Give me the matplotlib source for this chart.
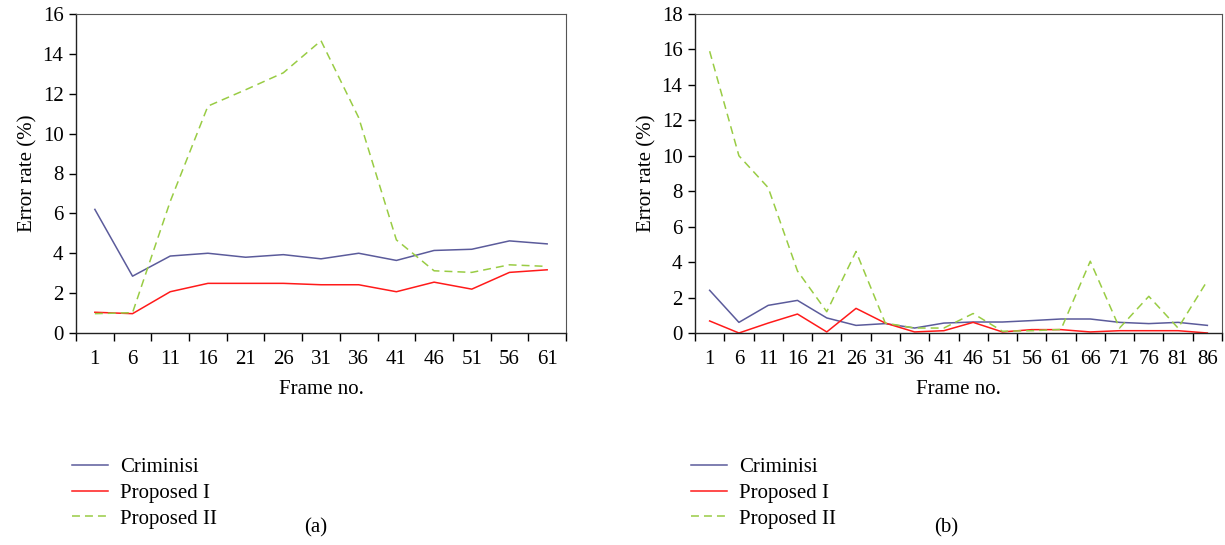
import numpy as np
import matplotlib
matplotlib.use('Agg')
import matplotlib.pyplot as plt

plt.rcParams['font.family'] = ['Liberation Serif', 'DejaVu Serif']
plt.rcParams['font.size'] = 15

# chart (a)
frames_a = ['1', '6', '11', '16', '21', '26', '31', '36', '41', '46', '51', '56', '61']
crim_a = [6.2, 2.85, 3.86, 4.0, 3.8, 3.93, 3.72, 4.0, 3.64, 4.14, 4.2, 4.62, 4.47]
prop1_a = [1.04, 0.97, 2.07, 2.49, 2.49, 2.49, 2.42, 2.42, 2.07, 2.55, 2.2, 3.04, 3.17]
prop2_a = [0.97, 1.02, 6.6, 11.38, 12.2, 13.05, 14.66, 10.8, 4.67, 3.12, 3.04, 3.42, 3.34]

# chart (b)
frames_b = ['1', '6', '11', '16', '21', '26', '31', '36', '41', '46', '51', '56', '61',
            '66', '71', '76', '81', '86']
crim_b = [2.41, 0.6, 1.56, 1.84, 0.85, 0.43, 0.53, 0.28, 0.56, 0.62, 0.62, 0.7, 0.79,
          0.79, 0.6, 0.53, 0.6, 0.43]
prop1_b = [0.68, 0.0, 0.56, 1.07, 0.06, 1.39, 0.56, 0.06, 0.13, 0.6, 0.06, 0.19, 0.19,
           0.06, 0.13, 0.13, 0.13, 0.0]
prop2_b = [15.9, 10.0, 8.2, 3.5, 1.2, 4.6, 0.56, 0.28, 0.28, 1.1, 0.1, 0.13, 0.2,
           4.05, 0.28, 2.07, 0.28, 2.95]

c_crim = '#5b5b9b'
c_p1 = '#ff1a1a'
c_p2 = '#99cc44'

fig = plt.figure(figsize=(12.25, 5.45), dpi=100)
ax1 = fig.add_axes([76 / 1225, 212 / 545, 490 / 1225, 319 / 545])
ax2 = fig.add_axes([695 / 1225, 212 / 545, 527 / 1225, 319 / 545])


def draw(ax, frames, crim, p1, p2, ymax, caption, cap_x):
    x = np.arange(len(frames))
    ax.plot(x, crim, color=c_crim, lw=1.1, label='Criminisi')
    ax.plot(x, p1, color=c_p1, lw=1.1, label='Proposed I')
    ax.plot(x, p2, color=c_p2, lw=1.1, ls=(0, (5.2, 3.3)), label='Proposed II')
    ax.set_xlim(-0.5, len(frames) - 0.5)
    ax.set_ylim(0, ymax)
    ax.set_yticks(np.arange(0, ymax + 1, 2))
    ax.set_xticks(np.arange(len(frames) + 1) - 0.5)
    ax.set_xticklabels([])
    ax.set_xticks(x, minor=True)
    ax.set_xticklabels(frames, minor=True)
    ax.tick_params(axis='x', which='major', direction='out', length=6, width=1)
    ax.tick_params(axis='x', which='minor', length=0, pad=12)
    ax.tick_params(axis='y', direction='out', length=5, width=1, pad=4)
    for s in ['top', 'right']:
        ax.spines[s].set_color('#555555')
        ax.spines[s].set_linewidth(0.8)
    for s in ['left', 'bottom']:
        ax.spines[s].set_color('#222222')
        ax.spines[s].set_linewidth(1.0)
    ax.set_xlabel('Frame no.', labelpad=8)
    ax.set_ylabel('Error rate (%)', labelpad=4)
    ax.legend(loc='upper left', bbox_to_anchor=(-0.008, -0.39), frameon=False,
              borderaxespad=0, borderpad=0, handlelength=1.73, handletextpad=0.58,
              labelspacing=0.3, fontsize=15)
    fig.text(cap_x / 1225, 1 - 528 / 545, caption, ha='center', va='center', fontsize=15)


draw(ax1, frames_a, crim_a, prop1_a, prop2_a, 16, '(a)', 316)
draw(ax2, frames_b, crim_b, prop1_b, prop2_b, 18, '(b)', 946)

fig.savefig('out.png', dpi=100)
